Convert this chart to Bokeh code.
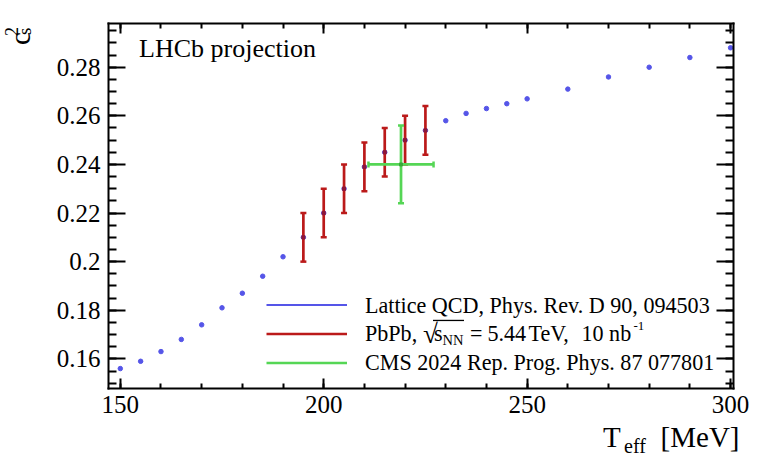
import math
from bokeh.plotting import figure
from bokeh.models import (Range1d, LinearAxis, FixedTicker, Label, Legend,
                          LegendItem, BoxAnnotation)
from bokeh.core.properties import value
from bokeh.embed import file_html
from bokeh.resources import INLINE

# ---------------- data ----------------
lattice_T = [150, 155, 160, 165, 170, 175, 180, 185, 190, 195, 200, 205, 210,
             215, 220, 225, 230, 235, 240, 245, 250, 260, 270, 280, 290, 300]
lattice_cs2 = [0.156, 0.159, 0.163, 0.168, 0.174, 0.181, 0.187, 0.194, 0.202,
               0.210, 0.220, 0.230, 0.239, 0.245, 0.250, 0.254, 0.258, 0.261,
               0.263, 0.265, 0.267, 0.271, 0.276, 0.280, 0.284, 0.288]

pbpb_T = [195, 200, 205, 210, 215, 220, 225]
pbpb_cs2 = [0.210, 0.220, 0.230, 0.239, 0.245, 0.250, 0.254]
pbpb_err = [0.010, 0.010, 0.010, 0.010, 0.010, 0.010, 0.010]

cms_T = [219]
cms_T_err = [8]
cms_cs2 = [0.240]
cms_cs2_err = [0.016]

x_major_ticks = [150, 200, 250, 300]
x_minor_ticks = [150, 160, 170, 180, 190, 200, 210, 220, 230, 240, 250, 260,
                 270, 280, 290, 300]
y_major_ticks = [0.16, 0.18, 0.20, 0.22, 0.24, 0.26, 0.28]
y_tick_labels = ["0.16", "0.18", "0.2", "0.22", "0.24", "0.26", "0.28"]
y_minor_ticks = [0.150, 0.155, 0.160, 0.165, 0.170, 0.175, 0.180, 0.185, 0.190,
                 0.195, 0.200, 0.205, 0.210, 0.215, 0.220, 0.225, 0.230, 0.235,
                 0.240, 0.245, 0.250, 0.255, 0.260, 0.265, 0.270, 0.275, 0.280,
                 0.285, 0.290, 0.295]

legend_labels = ["Lattice QCD, Phys. Rev. D 90, 094503",
                 "PbPb,",
                 "CMS 2024 Rep. Prog. Phys. 87 077801"]

BLUE = "#5555e8"
RED = "#bb1a1a"
GREEN = "#55d655"
FONT = "Liberation Serif"

# visible data window (the drawn frame)
X0, X1 = 147.1, 300.8
Y0, Y1 = 0.1478, 0.298

# canvas and where the drawn frame sits on it (pixels from top-left)
W, H = 773, 462
FL, FR, FT, FB = 108.0, 733.3, 23.0, 388.0
SX = (X1 - X0) / (FR - FL)
SY = (Y1 - Y0) / (FB - FT)


def dx(px):
    return X0 + (px - FL) * SX


def dy(py):
    return Y0 + (FB - py) * SY


p = figure(width=W, height=H,
           x_range=Range1d(dx(0), dx(W)), y_range=Range1d(dy(H), dy(0)),
           output_backend="svg", toolbar_location=None,
           min_border=0, x_axis_location=None, y_axis_location=None)
p.xgrid.visible = False
p.ygrid.visible = False
p.outline_line_color = None
p.background_fill_color = "white"
p.border_fill_color = "white"

xticker = FixedTicker(ticks=x_major_ticks, minor_ticks=x_minor_ticks)
yticker = FixedTicker(ticks=y_major_ticks, minor_ticks=y_minor_ticks)


def make_axis(side):
    is_x = side in ("below", "above")
    ax = LinearAxis()
    ax.ticker = xticker if is_x else yticker
    ax.bounds = (X0, X1) if is_x else (Y0, Y1)
    ax.fixed_location = {"below": Y0, "above": Y1, "left": X0, "right": X1}[side]
    ax.axis_line_width = 2
    ax.axis_line_color = "black"
    ax.axis_line_cap = "square"
    ax.major_tick_line_width = 2
    ax.minor_tick_line_width = 2
    ax.major_tick_line_color = "black"
    ax.minor_tick_line_color = "black"
    ax.major_tick_in = 10 if is_x else 17
    ax.major_tick_out = 0
    ax.minor_tick_in = 5 if is_x else 8
    ax.minor_tick_out = 0
    ax.major_label_text_font = FONT
    ax.major_label_text_font_size = "25px"
    ax.major_label_text_color = "black"
    ax.axis_label = None
    if side == "left":
        ax.major_label_overrides = {t: l for t, l in zip(y_major_ticks, y_tick_labels)}
        ax.major_label_standoff = 8
    elif side == "below":
        ax.major_label_standoff = 7
    elif side == "right":
        ax.major_label_overrides = {t: "" for t in y_major_ticks}
    else:
        ax.major_label_overrides = {t: "" for t in x_major_ticks}
    p.add_layout(ax, side)
    return ax


for side in ("below", "left", "above", "right"):
    make_axis(side)

# ---------------- glyphs ----------------
lat_line = p.line(lattice_T, lattice_cs2, line_color=BLUE, line_width=2,
                  visible=False)
lat_pts = p.scatter(lattice_T, lattice_cs2, size=4.5, fill_color=BLUE,
                    line_color=BLUE)

pb_lo = [v - e for v, e in zip(pbpb_cs2, pbpb_err)]
pb_hi = [v + e for v, e in zip(pbpb_cs2, pbpb_err)]
pb_bars = p.segment(x0=pbpb_T, y0=pb_lo, x1=pbpb_T, y1=pb_hi,
                    line_color=RED, line_width=2.7)
p.scatter(x=pbpb_T + pbpb_T, y=pb_lo + pb_hi, marker="dash", size=6,
          line_color=RED, line_width=2.5)
p.scatter(pbpb_T, pbpb_cs2, marker="square", size=3,
          fill_color="#8e1838", line_color="#8e1838")

c_lo = [v - e for v, e in zip(cms_cs2, cms_cs2_err)]
c_hi = [v + e for v, e in zip(cms_cs2, cms_cs2_err)]
c_left = [t - e for t, e in zip(cms_T, cms_T_err)]
c_right = [t + e for t, e in zip(cms_T, cms_T_err)]
cms_h = p.segment(x0=c_left, y0=cms_cs2, x1=c_right, y1=cms_cs2,
                  line_color=GREEN, line_width=2.7)
p.segment(x0=cms_T, y0=c_lo, x1=cms_T, y1=c_hi,
          line_color=GREEN, line_width=2.7)
p.scatter(x=cms_T + cms_T, y=c_lo + c_hi, marker="dash", size=6,
          line_color=GREEN, line_width=2.5)
p.scatter(x=c_left + c_right, y=cms_cs2 + cms_cs2, marker="dash", size=6,
          angle=math.pi / 2, line_color=GREEN, line_width=2.5)
p.scatter(cms_T, cms_cs2, marker="square", size=3,
          fill_color="#3aa83a", line_color="#3aa83a")

# ---------------- legend (glyphs only; texts as labels below) ----------------
legend = Legend(items=[
    LegendItem(label=value(""), renderers=[lat_line]),
    LegendItem(label=value(""), renderers=[pb_bars]),
    LegendItem(label=value(""), renderers=[cms_h]),
], location=(266, H - 376.5))
legend.border_line_color = None
legend.background_fill_alpha = 0
legend.padding = 0
legend.margin = 0
legend.spacing = 0
legend.glyph_width = 81
legend.glyph_height = 29
legend.label_height = 29
legend.label_standoff = 0
legend.label_width = 0
legend.inactive_fill_alpha = 0
p.add_layout(legend)

K = 0.31  # baseline correction, fraction of font size


def txt(text, px, py, size, align="left", rotated=False):
    s = float(size.replace("px", ""))
    if rotated:
        px = px - K * s
        ang = math.pi / 2
    else:
        py = py - K * s
        ang = 0.0
    p.add_layout(Label(x=dx(px), y=dy(py), text=text, text_font=FONT,
                       text_font_size=size, text_color="black",
                       text_align=align, text_baseline="alphabetic",
                       angle=ang))


# legend texts
txt(legend_labels[0], 364.5, 311.5, "22.1px")
txt(legend_labels[1], 364.5, 339.5, "22.1px")
txt("\u221a", 422.5, 342, "27px")
p.add_layout(BoxAnnotation(left=dx(432.5), right=dx(463.5), top=dy(319.3),
                           bottom=dy(320.6), fill_color="black",
                           fill_alpha=1, line_color=None))
txt("s", 433.5, 339.5, "22.1px")
txt("NN", 442, 343.5, "14.5px")
txt("=", 469.5, 339.5, "22.1px")
txt("5.44", 487, 339.5, "22.1px")
txt("TeV,", 528, 339.5, "22.1px")
txt("10 nb", 581, 339.5, "22.1px")
txt("-1", 633, 330, "13px")
txt(legend_labels[2], 364.5, 369.3, "22.1px")

# in-frame label
txt("LHCb projection", 138.5, 56, "26px")

# y-axis title (rotated): c_s^2
txt("c", 28.3, 44.5, "29px", rotated=True)
txt("2", 16.5, 35.5, "18px", rotated=True)
txt("s", 30.3, 34.5, "19px", rotated=True)

# x-axis title: T_eff [MeV]
txt("T", 602.5, 445.7, "29px")
txt("eff", 623.5, 451.5, "20px")
txt("[MeV]", 739, 445.7, "29px", align="right")

open("out.html", "w").write(file_html(p, INLINE))
